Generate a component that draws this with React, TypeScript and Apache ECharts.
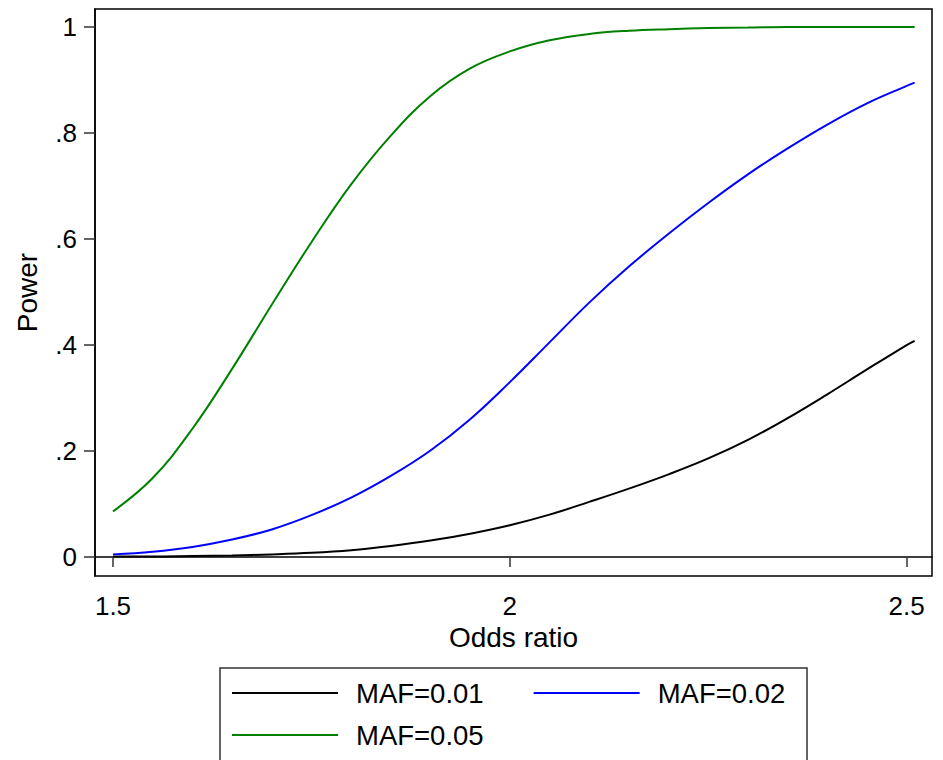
import React, { useEffect, useRef } from "react";
import * as echarts from "echarts";

const oddsRatio = [1.5, 1.55, 1.6, 1.65, 1.7, 1.75, 1.8, 1.85, 1.9, 1.95, 2.0, 2.05, 2.1, 2.15, 2.2, 2.25, 2.3, 2.35, 2.4, 2.45, 2.5, 2.51];
const powerMaf001 = [0.001, 0.001, 0.002, 0.003, 0.005, 0.008, 0.013, 0.021, 0.031, 0.044, 0.060, 0.080, 0.104, 0.129, 0.156, 0.186, 0.221, 0.262, 0.307, 0.354, 0.400, 0.408];
const powerMaf002 = [0.005, 0.010, 0.019, 0.033, 0.052, 0.079, 0.112, 0.153, 0.201, 0.260, 0.330, 0.405, 0.480, 0.548, 0.610, 0.668, 0.722, 0.771, 0.816, 0.856, 0.889, 0.895];
const powerMaf005 = [0.086, 0.149, 0.242, 0.355, 0.476, 0.594, 0.703, 0.795, 0.870, 0.922, 0.954, 0.975, 0.987, 0.993, 0.996, 0.998, 0.999, 1, 1, 1, 1, 1];
const seriesNames = ["MAF=0.01", "MAF=0.02", "MAF=0.05"];
const xTicks = [1.5, 2, 2.5];
const yTicks = [0, 0.2, 0.4, 0.6, 0.8, 1];
const xTitle = "Odds ratio";
const yTitle = "Power";

const FONT = "Liberation Sans, Arial, Helvetica, sans-serif";

export default function App() {
  const ref = useRef<HTMLDivElement>(null);
  useEffect(() => {
    if (!ref.current) return;
    const chart = echarts.init(ref.current, undefined, { renderer: "svg" });
    const pair = (ys: number[]) => oddsRatio.map((x, i) => [x, ys[i]]);
    const colors = ["#000000", "#0000ff", "#008000"];
    const values = [powerMaf001, powerMaf002, powerMaf005];
    const legendCommon = {
      orient: "horizontal" as const,
      padding: 0,
      itemWidth: 106,
      itemHeight: 2,
      itemGap: 50,
      icon: "rect",
      selectedMode: false,
      textStyle: {
        fontFamily: FONT,
        fontSize: 27.5,
        color: "#000",
        lineHeight: 28,
        padding: [0, 0, 0, 13],
      },
    };
    chart.setOption({
      animation: false,
      backgroundColor: "#ffffff",
      grid: {
        left: 95,
        right: 11,
        top: 9,
        bottom: 184,
        show: true,
        borderColor: "#000",
        borderWidth: 1.5,
        backgroundColor: "transparent",
      },
      legend: [
        { ...legendCommon, left: 232, top: 679, data: [seriesNames[0], seriesNames[1]] },
        { ...legendCommon, left: 232, top: 721, data: [seriesNames[2]] },
      ],
      graphic: [
        {
          type: "rect",
          shape: { x: 220, y: 668, width: 587, height: 140 },
          style: { fill: "none", stroke: "#333", lineWidth: 1.5 },
          silent: true,
        },
      ],
      xAxis: {
        type: "value",
        min: 1.4773,
        max: 2.5319,
        name: xTitle,
        nameLocation: "middle",
        nameGap: 46,
        nameTextStyle: { fontFamily: FONT, fontSize: 28, color: "#000" },
        axisLine: { show: true, lineStyle: { color: "#000", width: 1.5 } },
        axisTick: { show: true, length: 10, lineStyle: { color: "#333", width: 1.5 }, customValues: xTicks },
        axisLabel: {
          customValues: xTicks,
          margin: 17,
          fontFamily: FONT,
          fontSize: 26,
          color: "#000",
          formatter: (v: number) => String(v),
        },
        splitLine: { show: false },
      },
      yAxis: {
        type: "value",
        min: -0.0358,
        max: 1.034,
        name: yTitle,
        nameLocation: "middle",
        nameRotate: 90,
        nameGap: 54,
        nameTextStyle: { fontFamily: FONT, fontSize: 28, color: "#000" },
        axisLine: { show: true, lineStyle: { color: "#000", width: 1.5 } },
        axisTick: { show: true, length: 11, lineStyle: { color: "#333", width: 1.5 }, customValues: yTicks },
        axisLabel: {
          customValues: yTicks,
          margin: 18,
          fontFamily: FONT,
          fontSize: 26,
          color: "#000",
          formatter: (v: number) => {
            if (Math.abs(v) < 1e-9) return "0";
            if (Math.abs(v - 1) < 1e-9) return "1";
            return String(Math.round(v * 10) / 10).replace(/^0\./, ".");
          },
        },
        splitLine: { show: false },
      },
      series: values.map((ys, i) => ({
        name: seriesNames[i],
        type: "line",
        data: pair(ys),
        smooth: 0.4,
        symbol: "none",
        lineStyle: { color: colors[i], width: 2 },
        itemStyle: { color: colors[i] },
      })),
    });
    return () => chart.dispose();
  }, []);
  return (
    <div
      ref={ref}
      style={{ position: "fixed", left: 0, top: 0, width: 943, height: 760, background: "#fff" }}
    />
  );
}
